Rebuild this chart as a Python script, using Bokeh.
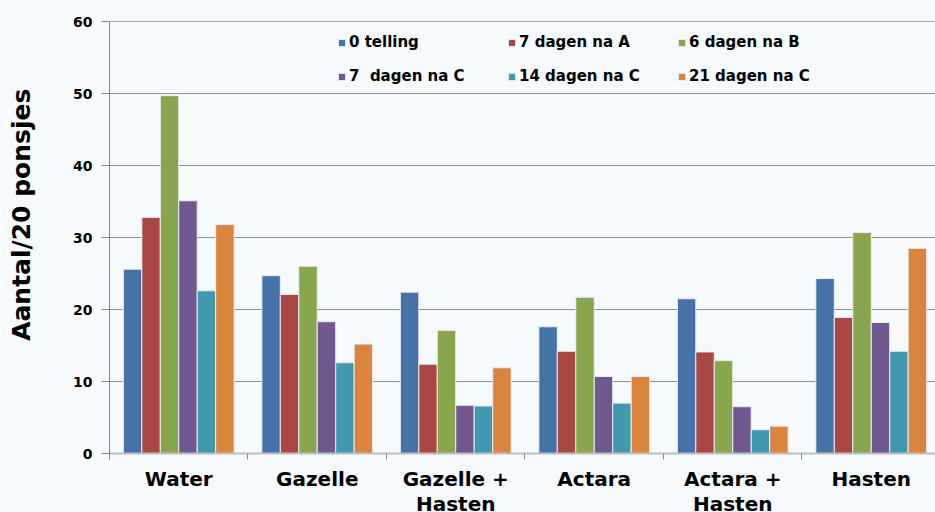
from bokeh.plotting import figure
from bokeh.models import (ColumnDataSource, FixedTicker, Legend, LegendItem,
                          Span)
from bokeh.embed import file_html
from bokeh.resources import INLINE

categories = ["Water", "Gazelle", "Gazelle +\nHasten", "Actara",
              "Actara +\nHasten", "Hasten"]
series = ["0 telling", "7 dagen na A", "6 dagen na B",
          "7  dagen na C", "14 dagen na C", "21 dagen na C"]
colors = ["#4572A7", "#AA4643", "#89A54E", "#71588F", "#4198AF", "#DB843D"]

v_0_telling = [25.6, 24.7, 22.4, 17.6, 21.5, 24.3]
v_7_na_A = [32.8, 22.1, 12.4, 14.2, 14.1, 18.9]
v_6_na_B = [49.7, 26.0, 17.1, 21.7, 12.9, 30.7]
v_7_na_C = [35.1, 18.3, 6.7, 10.7, 6.5, 18.2]
v_14_na_C = [22.6, 12.6, 6.6, 7.0, 3.3, 14.2]
v_21_na_C = [31.8, 15.2, 11.9, 10.7, 3.8, 28.5]
values = [v_0_telling, v_7_na_A, v_6_na_B, v_7_na_C, v_14_na_C, v_21_na_C]

y_ticks = [0, 10, 20, 30, 40, 50, 60]
y_title = "Aantal/20 ponsjes"

bg = "#F6FAFD"
font = "DejaVu Sans"

# frame runs from 21px to the bottom of the canvas (512px); value 0 sits at 453px
px_per_unit = (453 - 21) / 60.0
y_start = -(512 - 453) / px_per_unit

p = figure(width=935, height=512, output_backend="svg", toolbar_location=None,
           x_range=(0, 5.964), y_range=(y_start, 60),
           min_border_left=109, min_border_right=0, min_border_top=21,
           min_border_bottom=0)
p.background_fill_color = bg
p.border_fill_color = bg
p.outline_line_color = None

n = len(series)
group_w = 0.8
bar_w = group_w / n
renderers = []
for i, (name, vals, col) in enumerate(zip(series, values, colors)):
    xs = [c + 0.5 - group_w / 2 + bar_w * (i + 0.5) for c in range(len(categories))]
    src = ColumnDataSource(dict(x=xs, top=vals))
    r = p.vbar(x="x", top="top", bottom=0, width=bar_w, source=src,
               fill_color=col, line_color="#E8EEF4", line_width=1)
    renderers.append((name, r))

# grid
p.xgrid.grid_line_color = None
p.ygrid.ticker = FixedTicker(ticks=y_ticks[1:])
p.ygrid.grid_line_color = "#8E8E8E"
p.ygrid.grid_line_width = 1
p.add_layout(Span(location=60, dimension="width", line_color="#5A5A5A",
                  line_width=1))

# y axis
p.yaxis.ticker = FixedTicker(ticks=y_ticks)
p.yaxis.bounds = (-0.8, 60)
p.yaxis.axis_line_color = "#868686"
p.yaxis.major_tick_line_color = "#868686"
p.yaxis.major_tick_out = 8
p.yaxis.major_tick_in = 0
p.yaxis.minor_tick_line_color = None
p.yaxis.major_label_standoff = 9
p.yaxis.major_label_text_font = font
p.yaxis.major_label_text_font_style = "bold"
p.yaxis.major_label_text_font_size = "14px"
p.yaxis.major_label_text_color = "#000000"
p.yaxis.axis_label = "\u00a0" * 12 + y_title
p.yaxis.axis_label_standoff = 34
p.yaxis.axis_label_text_font = font
p.yaxis.axis_label_text_font_style = "bold"
p.yaxis.axis_label_text_font_size = "25px"
p.yaxis.axis_label_text_color = "#000000"

# x axis, pinned at value 0
centers = [c + 0.5 for c in range(len(categories))]
bounds = [float(c) for c in range(len(categories) + 1)]
p.xaxis.fixed_location = 0
p.xaxis.ticker = FixedTicker(ticks=centers, minor_ticks=bounds)
p.xaxis.major_label_overrides = {c: lab for c, lab in zip(centers, categories)}
p.xaxis.major_tick_line_color = None
p.xaxis.major_tick_out = 6
p.xaxis.major_tick_in = 0
p.xaxis.minor_tick_line_color = "#868686"
p.xaxis.minor_tick_out = 6
p.xaxis.minor_tick_in = 0
p.xaxis.axis_line_color = "#BDBDBD"
p.xaxis.axis_line_width = 2
p.xaxis.major_label_standoff = 7
p.xaxis.major_label_text_font = font
p.xaxis.major_label_text_font_style = "bold"
p.xaxis.major_label_text_font_size = "20px"
p.xaxis.major_label_text_line_height = 1.06
p.xaxis.major_label_text_color = "#000000"

order = [0, 3, 1, 4, 2, 5]
legend = Legend(items=[LegendItem(label=renderers[k][0], renderers=[renderers[k][1]])
                       for k in order],
                ncols=3, location=(228, 424), padding=0, margin=0,
                spacing=10, glyph_width=9, glyph_height=9, label_height=24,
                label_width=148, label_standoff=3,
                border_line_color=None, background_fill_alpha=0,
                label_text_font=font, label_text_font_style="bold",
                label_text_font_size="15px", label_text_color="#000000")
p.add_layout(legend)

open("out.html", "w").write(file_html(p, INLINE))
